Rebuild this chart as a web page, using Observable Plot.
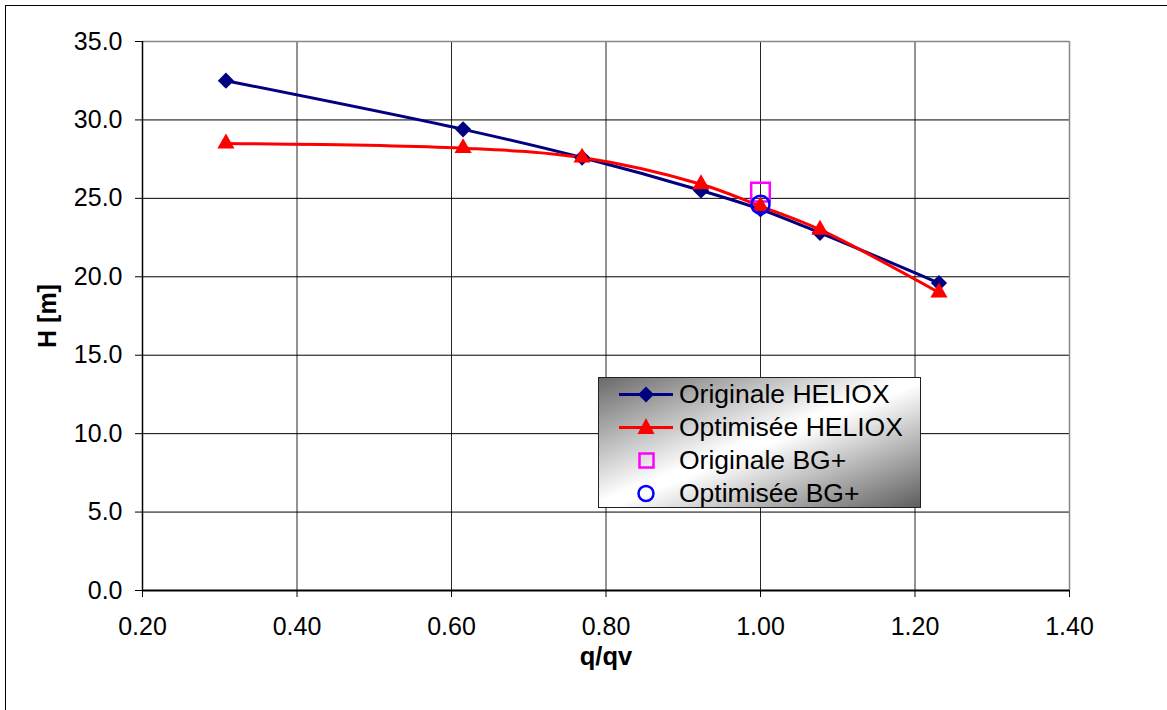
<!DOCTYPE html>
<html>
<head>
<meta charset="utf-8">
<script src="https://cdn.jsdelivr.net/npm/d3@7"></script>
<script src="https://cdn.jsdelivr.net/npm/@observablehq/plot@0.6"></script>
<style>
  html, body { margin: 0; padding: 0; background: #fff; }
  #wrap { position: relative; width: 1167px; height: 710px; overflow: hidden; font-family: "Liberation Sans", Arial, sans-serif; }
  #frame { position: absolute; left: 5px; top: 5px; width: 1200px; height: 800px; border-left: 1px solid #000; border-top: 1px solid #000; pointer-events: none; }
  #legend { position: absolute; left: 598px; top: 377px; width: 321px; height: 129px;
    border: 1px solid #222;
    background: linear-gradient(to bottom right, #6a6a6a 0%, #ffffff 48%, #ffffff 52%, #5e5e5e 100%); }
  .row { position: absolute; left: 0; height: 33px; display: flex; align-items: center; font-size: 26.5px; color: #000; white-space: nowrap; }
  .row svg { width: 80px; height: 33px; flex: none; }
</style>
</head>
<body>
<div id="wrap"><div id="frame"></div></div>
<script>
// ---- data ----
const q = [0.308, 0.615, 0.769, 0.923, 1.0, 1.077, 1.231];
const hOriginaleHeliox = [32.5, 29.4, 27.6, 25.5, 24.3, 22.8, 19.6];
const hOptimiseeHeliox = [28.5, 28.2, 27.6, 25.9, 24.5, 23.0, 19.0];
const qBG = [1.0];
const hOriginaleBG = [25.4];
const hOptimiseeBG = [24.6];
const xTicks = [0.2, 0.4, 0.6, 0.8, 1.0, 1.2, 1.4];
const yTicks = [0, 5, 10, 15, 20, 25, 30, 35];
const seriesNames = ["Originale HELIOX", "Optimisée HELIOX", "Originale BG+", "Optimisée BG+"];

const orig = q.map((x, i) => ({q: x, h: hOriginaleHeliox[i]}));
const opt = q.map((x, i) => ({q: x, h: hOptimiseeHeliox[i]}));
const bgO = qBG.map((x, i) => ({q: x, h: hOriginaleBG[i]}));
const bgP = qBG.map((x, i) => ({q: x, h: hOptimiseeBG[i]}));

const navy = "#000080", red = "#ff0000", magenta = "#ff00ff", blue = "#0000ff";

const chart = Plot.plot({
  width: 1167,
  height: 710,
  marginLeft: 142,
  marginRight: 98,
  marginTop: 41,
  marginBottom: 120,
  style: {fontFamily: "'Liberation Sans', Arial, sans-serif", fontSize: "25px", background: "transparent", overflow: "visible"},
  x: {domain: [0.2, 1.4], ticks: xTicks, tickFormat: d3.format(".2f"), label: null, tickSize: 7, tickPadding: 20},
  y: {domain: [0, 35], ticks: yTicks, tickFormat: d3.format(".1f"), label: null, tickSize: 7, tickPadding: 13},
  marks: [
    Plot.gridX(xTicks, {stroke: "#000", strokeOpacity: 0.85, strokeWidth: 1}),
    Plot.gridY(yTicks, {stroke: "#000", strokeOpacity: 1, strokeWidth: 1}),
    Plot.ruleY([35], {stroke: "#888", strokeWidth: 1.5}),
    Plot.ruleX([1.4], {stroke: "#888", strokeWidth: 1.5}),
    Plot.ruleX([0.2], {stroke: "#000", strokeWidth: 1.5}),
    Plot.ruleY([0], {stroke: "#000", strokeWidth: 2}),
    Plot.axisX({ticks: xTicks, tickFormat: d3.format(".2f"), tickSize: 7, tickPadding: 20, label: null, stroke: "#000", fill: "#000"}),
    Plot.axisY({ticks: yTicks, tickFormat: d3.format(".1f"), tickSize: 7, tickPadding: 13, label: null, stroke: "#000", fill: "#000"}),
    Plot.line(orig, {x: "q", y: "h", stroke: navy, strokeWidth: 3, curve: "catmull-rom"}),
    Plot.line(opt, {x: "q", y: "h", stroke: red, strokeWidth: 3, curve: "catmull-rom"}),
    Plot.dot(bgO, {x: "q", y: "h", symbol: "square", r: 10.5, stroke: magenta, strokeWidth: 2.5, fill: "none"}),
    Plot.dot(orig, {x: "q", y: "h", symbol: "diamond2", r: 7.3, fill: navy, stroke: "none"}),
    Plot.dot(opt, {x: "q", y: "h", symbol: "triangle2", r: 8.2, fill: red, stroke: "none"}),
    Plot.dot(bgP, {x: "q", y: "h", symbol: "circle", r: 9, stroke: blue, strokeWidth: 2.5, fill: "none"}),
    Plot.text(["q/qv"], {frameAnchor: "bottom", textAnchor: "middle", lineAnchor: "bottom", dy: 74, fontWeight: "bold", fontSize: 25.5, fill: "#000"}),
    Plot.text(["H [m]"], {frameAnchor: "left", textAnchor: "middle", lineAnchor: "middle", dx: -95, rotate: -90, fontWeight: "bold", fontSize: 25, fill: "#000"})
  ]
});
const wrap = document.getElementById("wrap");
chart.style.position = "absolute";
chart.style.left = "0px";
chart.style.top = "0px";
wrap.insertBefore(chart, wrap.firstChild);

// ---- legend ----
const legend = document.createElement("div");
legend.id = "legend";
const icons = [
  `<line x1="20" x2="74" y1="16.5" y2="16.5" stroke="${navy}" stroke-width="3"/><path d="M47 8.5 L55 16.5 L47 24.5 L39 16.5 Z" fill="${navy}"/>`,
  `<line x1="20" x2="74" y1="16.5" y2="16.5" stroke="${red}" stroke-width="3"/><path d="M47 7 L55.5 23 L38.5 23 Z" fill="${red}"/>`,
  `<rect x="40.5" y="9.5" width="14" height="14" fill="none" stroke="${magenta}" stroke-width="2.5"/>`,
  `<circle cx="47" cy="16.5" r="7.5" fill="none" stroke="${blue}" stroke-width="2.5"/>`
];
const rowTops = [0, 33, 66, 99];
seriesNames.forEach((name, i) => {
  const row = document.createElement("div");
  row.className = "row";
  row.style.top = rowTops[i] + "px";
  row.innerHTML = `<svg viewBox="0 0 80 33">${icons[i]}</svg><span>${name}</span>`;
  legend.appendChild(row);
});
wrap.appendChild(legend);
</script>
</body>
</html>
